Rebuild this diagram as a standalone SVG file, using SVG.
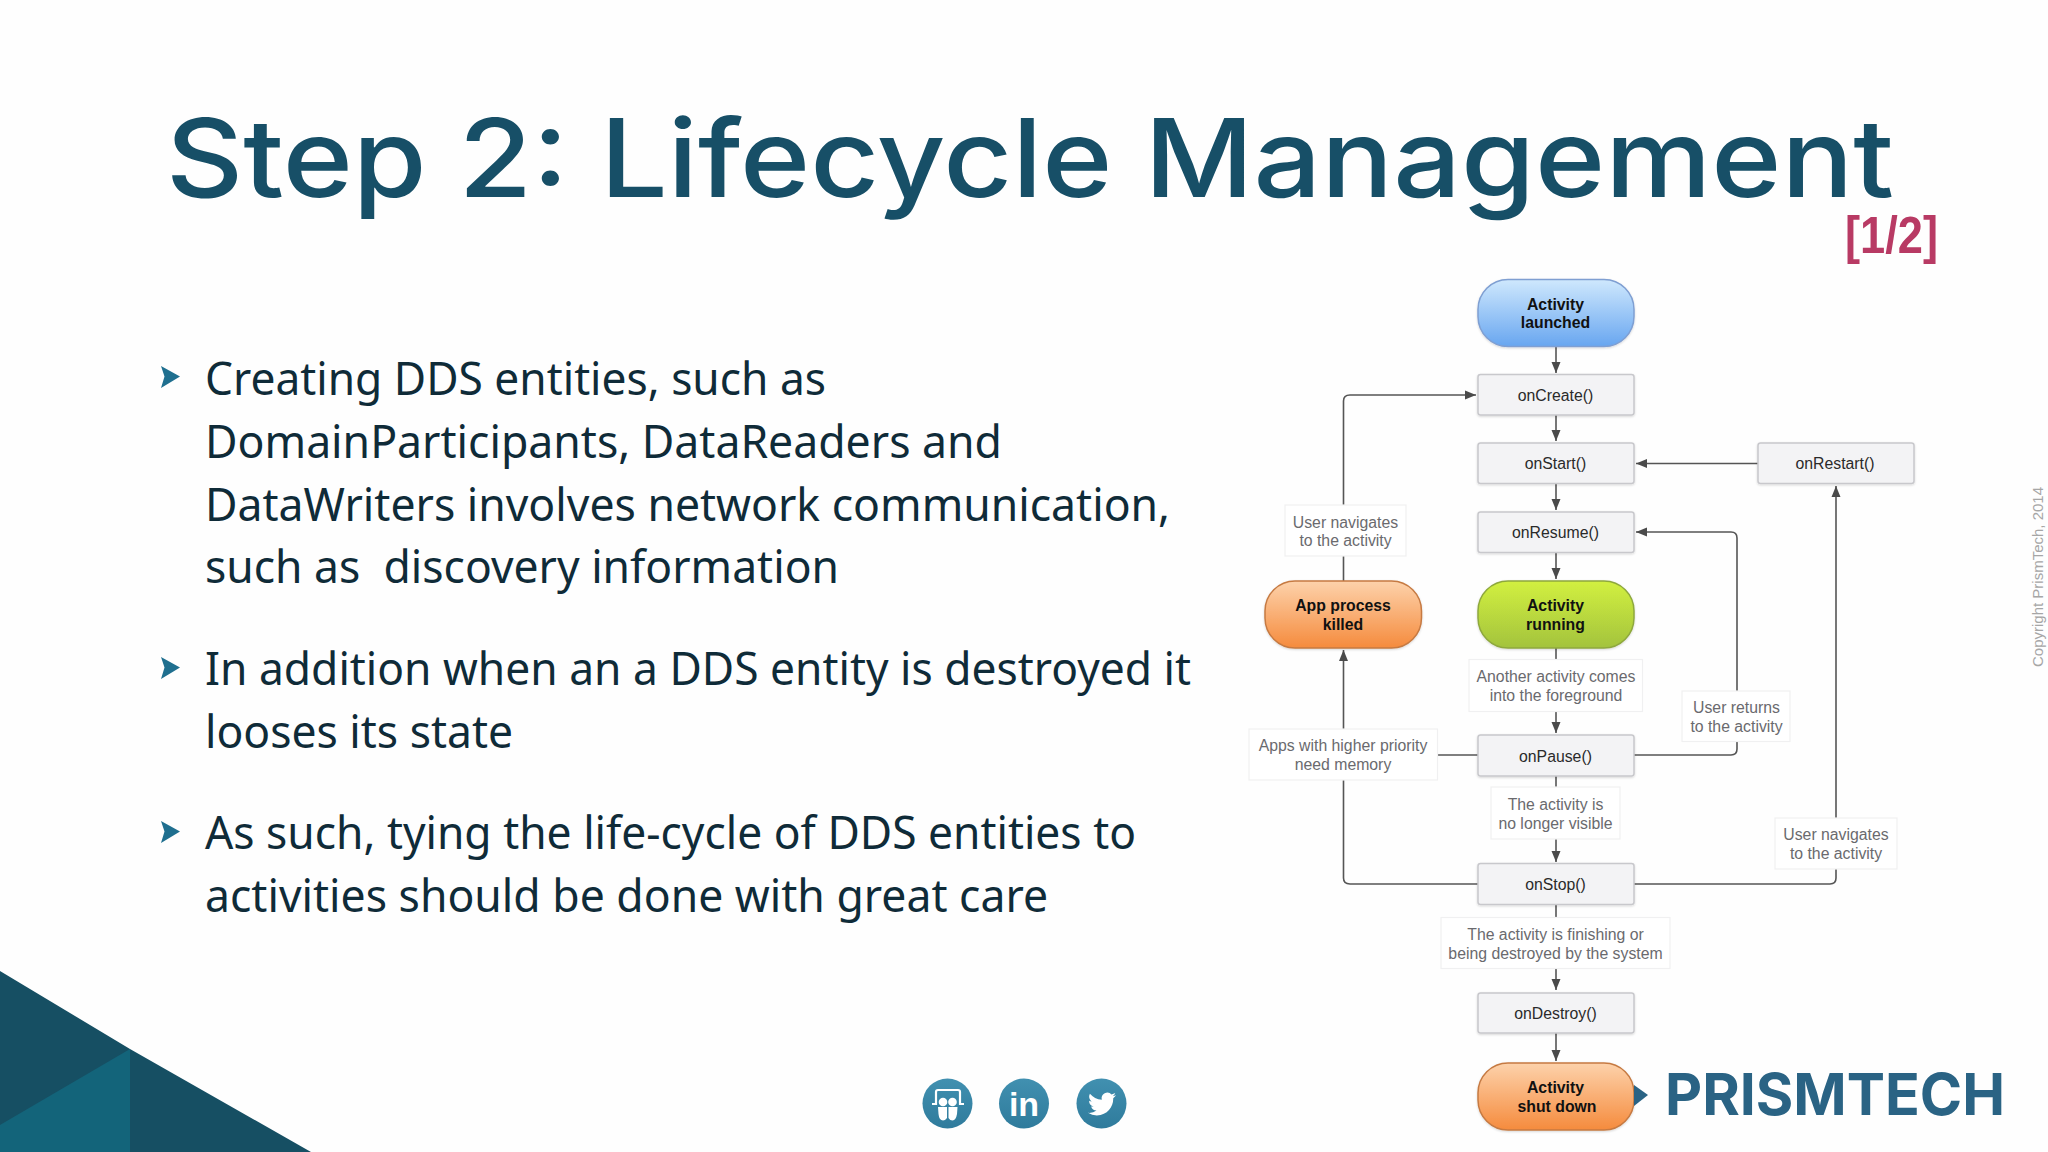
<svg xmlns="http://www.w3.org/2000/svg" width="2048" height="1152" viewBox="0 0 2048 1152">
<style>
.title{font-family:"Inter","Liberation Sans",sans-serif;font-weight:500;font-size:108px;fill:#174f67}
.body{font-family:"Noto Sans","Liberation Sans",sans-serif;font-size:46px;fill:#0f2b38}
.n{font-family:"Liberation Sans",Arial,sans-serif;font-size:15.8px;fill:#2a2a2a;text-anchor:middle}
.b{font-weight:700;fill:#111}
.l{font-family:"Liberation Sans",Arial,sans-serif;font-size:15.8px;fill:#6a6a6e;text-anchor:middle}
.box{fill:#f3f3f5;stroke:#c8c8cc;stroke-width:1.5}
.lab{fill:#fff;stroke:#f0f0f1;stroke-width:1.2}
.conn{fill:none;stroke:#555;stroke-width:1.6}
.arr{marker-end:url(#ah)}
.bul{fill:#1f6f8f}
</style>
<defs>
<marker id="ah" markerUnits="userSpaceOnUse" markerWidth="12" markerHeight="10" refX="11" refY="5" orient="auto"><path d="M0,0.5 L11,5 L0,9.5 Z" fill="#4a4a4a"/></marker>
<linearGradient id="gb" x1="0" y1="0" x2="0" y2="1"><stop offset="0" stop-color="#cfe8fd"/><stop offset="1" stop-color="#68a6f0"/></linearGradient>
<linearGradient id="go" x1="0" y1="0" x2="0" y2="1"><stop offset="0" stop-color="#fdd2ab"/><stop offset="1" stop-color="#f58b3d"/></linearGradient>
<linearGradient id="gg" x1="0" y1="0" x2="0" y2="1"><stop offset="0" stop-color="#d2f03f"/><stop offset="1" stop-color="#a3c33e"/></linearGradient>
<linearGradient id="gi" x1="0" y1="0" x2="0" y2="1"><stop offset="0" stop-color="#4190b0"/><stop offset="1" stop-color="#2f7b9c"/></linearGradient>
<filter id="sh" x="-10%" y="-10%" width="120%" height="125%"><feDropShadow dx="0" dy="1" stdDeviation="1" flood-color="#000" flood-opacity="0.16"/></filter>
</defs>
<rect width="2048" height="1152" fill="#fefefe"/>

<g id="corner">
<polygon points="0,971 130,1049 311,1152 0,1152" fill="#164f63"/>
<polygon points="0,1125 130,1049 130,1152 0,1152" fill="#13647a"/>
</g>

<text class="title" x="166" y="197" textLength="1728" lengthAdjust="spacingAndGlyphs">Step 2: Lifecycle Management</text>
<text x="1845" y="253" font-family="Liberation Sans,Arial,sans-serif" font-weight="700" font-size="51" fill="#b83a64" textLength="93" lengthAdjust="spacingAndGlyphs">[1/2]</text>

<g id="bullets">
<polygon class="bul" points="161,366 180,376.5 161,388 164.500,376.5"/>
<polygon class="bul" points="161,657 180,667.5 161,679 164.500,667.5"/>
<polygon class="bul" points="161,821 180,831.5 161,843 164.500,831.5"/>
<text class="body" x="205" y="395" textLength="621" lengthAdjust="spacingAndGlyphs">Creating DDS entities, such as</text>
<text class="body" x="205" y="458" textLength="797" lengthAdjust="spacingAndGlyphs">DomainParticipants, DataReaders and</text>
<text class="body" x="205" y="520.500" textLength="965" lengthAdjust="spacingAndGlyphs">DataWriters involves network communication,</text>
<text class="body" x="205" y="583" xml:space="preserve" textLength="634" lengthAdjust="spacingAndGlyphs">such as  discovery information</text>
<text class="body" x="205" y="685" textLength="986" lengthAdjust="spacingAndGlyphs">In addition when an a DDS entity is destroyed it</text>
<text class="body" x="205" y="748" textLength="308" lengthAdjust="spacingAndGlyphs">looses its state</text>
<text class="body" x="205" y="849" textLength="931" lengthAdjust="spacingAndGlyphs">As such, tying the life-cycle of DDS entities to</text>
<text class="body" x="205" y="912" textLength="843" lengthAdjust="spacingAndGlyphs">activities should be done with great care</text>
</g>

<g id="connectors">
<path class="conn arr" d="M1556,347 V373"/>
<path class="conn arr" d="M1556,415 V441"/>
<path class="conn arr" d="M1556,484 V510"/>
<path class="conn arr" d="M1556,553 V579"/>
<path class="conn arr" d="M1556,648 V733"/>
<path class="conn arr" d="M1556,776 V862"/>
<path class="conn arr" d="M1556,905 V990"/>
<path class="conn arr" d="M1556,1033 V1061"/>
<path class="conn arr" d="M1758,463.500 H1636"/>
<path class="conn arr" d="M1343.500,581 V401 Q1343.500,395 1350,395 H1476"/>
<path class="conn arr" d="M1634,755 H1731 Q1737,755 1737,749 V538 Q1737,532 1731,532 H1636"/>
<path class="conn arr" d="M1634,884 H1830 Q1836,884 1836,878 V486"/>
<path class="conn arr" d="M1478,884 H1350 Q1343.500,884 1343.500,878 V650"/>
<path class="conn" d="M1478,755 H1437"/>
</g>

<g id="label-user-navigates-1"><rect class="lab" x="1285" y="505" width="121" height="51"/><text class="l" x="1345.500" y="527.500">User navigates</text><text class="l" x="1345.500" y="546">to the activity</text></g>
<g id="label-another-activity"><rect class="lab" x="1469" y="659.500" width="173.500" height="52"/><text class="l" x="1556" y="682">Another activity comes</text><text class="l" x="1556" y="700.500">into the foreground</text></g>
<g id="label-user-returns"><rect class="lab" x="1682" y="691" width="108" height="50.500"/><text class="l" x="1736.500" y="713">User returns</text><text class="l" x="1736.500" y="731.500">to the activity</text></g>
<g id="label-apps-priority"><rect class="lab" x="1249" y="729" width="188.500" height="51"/><text class="l" x="1343" y="751">Apps with higher priority</text><text class="l" x="1343" y="769.500">need memory</text></g>
<g id="label-no-longer-visible"><rect class="lab" x="1491" y="787" width="129" height="52"/><text class="l" x="1555.500" y="810">The activity is</text><text class="l" x="1555.500" y="828.500">no longer visible</text></g>
<g id="label-user-navigates-2"><rect class="lab" x="1775" y="818" width="122" height="51"/><text class="l" x="1836" y="840">User navigates</text><text class="l" x="1836" y="858.500">to the activity</text></g>
<g id="label-finishing"><rect class="lab" x="1441" y="917.500" width="229" height="51"/><text class="l" x="1555.500" y="940">The activity is finishing or</text><text class="l" x="1555.500" y="958.500">being destroyed by the system</text></g>

<g id="node-launched"><rect x="1478" y="279.500" width="156" height="67" rx="30" ry="30" fill="url(#gb)" stroke="#7f9fd2" stroke-width="1.5" filter="url(#sh)"/><text class="n b" x="1555.500" y="309.500">Activity</text><text class="n b" x="1555.500" y="328">launched</text></g>
<g id="node-oncreate"><rect class="box" x="1478" y="374.500" width="156" height="40.500" rx="2.500" filter="url(#sh)"/><text class="n" x="1555.500" y="400.500">onCreate()</text></g>
<g id="node-onstart"><rect class="box" x="1478" y="443" width="156" height="40.500" rx="2.500" filter="url(#sh)"/><text class="n" x="1555.500" y="469">onStart()</text></g>
<g id="node-onrestart"><rect class="box" x="1758" y="443" width="156" height="40.500" rx="2.500" filter="url(#sh)"/><text class="n" x="1835" y="469">onRestart()</text></g>
<g id="node-onresume"><rect class="box" x="1478" y="512" width="156" height="40.500" rx="2.500" filter="url(#sh)"/><text class="n" x="1555.500" y="538">onResume()</text></g>
<g id="node-running"><rect x="1478" y="581" width="156" height="67" rx="30" ry="30" fill="url(#gg)" stroke="#8ea83e" stroke-width="1.5" filter="url(#sh)"/><text class="n b" x="1555.500" y="611">Activity</text><text class="n b" x="1555.500" y="629.500">running</text></g>
<g id="node-killed"><rect x="1265" y="581" width="156.500" height="67" rx="30" ry="30" fill="url(#go)" stroke="#c67a42" stroke-width="1.5" filter="url(#sh)"/><text class="n b" x="1343" y="611">App process</text><text class="n b" x="1343" y="629.500">killed</text></g>
<g id="node-onpause"><rect class="box" x="1478" y="735" width="156" height="41" rx="2.500" filter="url(#sh)"/><text class="n" x="1555.500" y="761.500">onPause()</text></g>
<g id="node-onstop"><rect class="box" x="1478" y="863.500" width="156" height="41" rx="2.500" filter="url(#sh)"/><text class="n" x="1555.500" y="890">onStop()</text></g>
<g id="node-ondestroy"><rect class="box" x="1478" y="993" width="156" height="40" rx="2.500" filter="url(#sh)"/><text class="n" x="1555.500" y="1019">onDestroy()</text></g>
<g id="node-shutdown"><rect x="1478" y="1063" width="156" height="67" rx="30" ry="30" fill="url(#go)" stroke="#c67a42" stroke-width="1.5" filter="url(#sh)"/><text class="n b" x="1555.500" y="1093">Activity</text><text class="n b" x="1557" y="1111.500">shut down</text></g>

<g id="logo">
<polygon points="1634,1085 1648,1095 1634,1106" fill="#2a6384"/>
<text x="1665" y="1115" font-family="Inter,Liberation Sans,sans-serif" font-weight="700" font-size="58" fill="#2a6384" textLength="340" lengthAdjust="spacingAndGlyphs">PRISMTECH</text>
</g>

<g id="social">
<circle cx="947.500" cy="1103.500" r="25" fill="url(#gi)"/>
<path d="M932,1104 H936 V1092 Q936,1090 938,1090 H958 Q960,1090 960,1092 V1104 H964" fill="none" stroke="#fff" stroke-width="2.200"/>
<circle cx="943" cy="1102" r="4.300" fill="#fff"/><circle cx="952.500" cy="1102" r="4.300" fill="#fff"/>
<path d="M938,1107 H947 V1118 Q945,1120.500 943,1120.500 Q939,1120 938.500,1114 Z M948.500,1107 H957.500 L957,1114 Q956,1120 952.500,1120.500 Q950,1120.500 948.500,1118 Z" fill="#fff"/>
<circle cx="1024" cy="1103.500" r="25" fill="url(#gi)"/>
<text x="1024" y="1116" font-family="Liberation Sans,Arial,sans-serif" font-weight="700" font-size="34" fill="#fff" text-anchor="middle">in</text>
<circle cx="1101.500" cy="1103.500" r="25" fill="url(#gi)"/>
<path transform="translate(1088,1090) scale(1.17)" fill="#fff" d="M23.953 4.57a10 10 0 01-2.825.775 4.958 4.958 0 002.163-2.723c-.951.555-2.005.959-3.127 1.184a4.92 4.92 0 00-8.384 4.482C7.69 8.095 4.067 6.13 1.64 3.162a4.822 4.822 0 00-.666 2.475c0 1.71.87 3.213 2.188 4.096a4.904 4.904 0 01-2.228-.616v.06a4.923 4.923 0 003.946 4.827 4.996 4.996 0 01-2.212.085 4.936 4.936 0 004.604 3.417 9.867 9.867 0 01-6.102 2.105c-.39 0-.779-.023-1.17-.067a13.995 13.995 0 007.557 2.209c9.053 0 13.998-7.496 13.998-13.985 0-.21 0-.42-.015-.63A9.935 9.935 0 0024 4.59z"/>
</g>

<text transform="translate(2043,667) rotate(-90)" font-family="Liberation Sans,Arial,sans-serif" font-size="14" fill="#a6a6a6" textLength="180" lengthAdjust="spacingAndGlyphs">Copyright PrismTech, 2014</text>
</svg>
